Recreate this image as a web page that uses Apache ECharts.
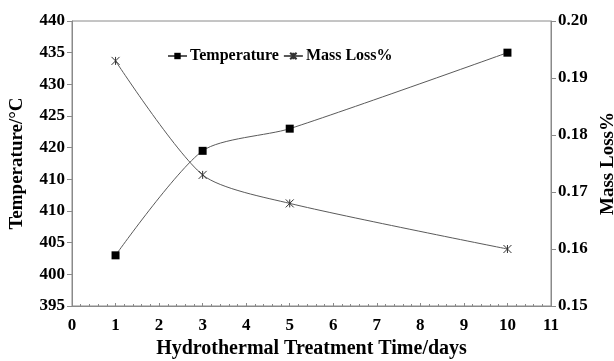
<!DOCTYPE html>
<html>
<head>
<meta charset="utf-8">
<script src="https://cdn.jsdelivr.net/npm/echarts@6/dist/echarts.min.js"></script>
<style>
  html, body { margin: 0; padding: 0; background: #fff; }
  #chart { width: 614px; height: 361px; }
</style>
</head>
<body>
<div id="chart"></div>
<script>
// Hydrothermal treatment time (days)
const days = [1, 3, 5, 10];
// Temperature (°C), left axis
const temperature = [403, 419.5, 423, 435];
// Mass loss (%), right axis
const massLoss = [0.193, 0.173, 0.168, 0.160];
// Left axis tick labels, bottom to top (as printed on the axis)
const tempTickLabels = ['395', '400', '405', '410', '410', '420', '425', '430', '435', '440'];

const FONT = '"Liberation Serif", "Times New Roman", serif';
const AXIS_COLOR = '#8a8a8a';
const LINE_COLOR = '#5a5a5a';

const chart = echarts.init(document.getElementById('chart'), null, { renderer: 'canvas' });

// asterisk marker: an x crossed by a vertical stroke
const asterisk = 'path://M0,0L10,10M10,0L0,10M5,0L5,10';

const tickLabel = { fontFamily: FONT, fontWeight: 'bold', fontSize: 17, color: '#000' };
const titleText = { fontFamily: FONT, fontWeight: 'bold', fontSize: 19, color: '#000' };

chart.setOption({
  animation: false,
  backgroundColor: '#fff',
  textStyle: { fontFamily: FONT },
  grid: {
    left: 72, right: 63, top: 21, bottom: 55,
    outerBoundsMode: 'none',
    show: true, borderColor: AXIS_COLOR, borderWidth: 1, backgroundColor: 'transparent'
  },
  legend: {
    top: 43, left: 162,
    itemWidth: 19, itemHeight: 8, itemGap: 4,
    textStyle: { fontFamily: FONT, fontWeight: 'bold', fontSize: 16, color: '#000', padding: [0, 0, 0, -2] },
    data: [
      { name: 'Temperature' },
      { name: 'Mass Loss%' }
    ]
  },
  xAxis: {
    type: 'value', min: 0, max: 11, interval: 1,
    name: 'Hydrothermal Treatment Time/days',
    nameLocation: 'middle', nameGap: 33,
    nameTextStyle: Object.assign({}, titleText, { fontSize: 20 }),
    axisLine: { lineStyle: { color: AXIS_COLOR } },
    axisTick: { show: true, length: 3, inside: true, lineStyle: { color: AXIS_COLOR } },
    minorTick: { show: true, splitNumber: 5, length: 2, lineStyle: { color: AXIS_COLOR } },
    splitLine: { show: false },
    axisLabel: Object.assign({ margin: 11 }, tickLabel)
  },
  yAxis: [
    {
      type: 'value', min: 395, max: 440, interval: 5, position: 'left',
      name: 'Temperature/°C', nameLocation: 'middle', nameGap: 45, nameRotate: 90,
      nameTextStyle: titleText,
      axisLine: { show: true, lineStyle: { color: AXIS_COLOR } },
      axisTick: { show: true, length: 5, lineStyle: { color: AXIS_COLOR } },
      splitLine: { show: false },
      axisLabel: Object.assign({
        margin: 7,
        formatter: v => tempTickLabels[Math.round((v - 395) / 5)]
      }, tickLabel)
    },
    {
      type: 'value', min: 0.15, max: 0.20, interval: 0.01, position: 'right',
      name: 'Mass Loss%', nameLocation: 'middle', nameGap: 46, nameRotate: 90,
      nameTextStyle: titleText,
      axisLine: { show: true, lineStyle: { color: AXIS_COLOR } },
      axisTick: { show: true, length: 5, lineStyle: { color: AXIS_COLOR } },
      splitLine: { show: false },
      axisLabel: Object.assign({
        margin: 7,
        formatter: v => v.toFixed(2)
      }, tickLabel)
    }
  ],
  series: [
    {
      name: 'Temperature', type: 'line', yAxisIndex: 0,
      data: days.map((d, i) => [d, temperature[i]]),
      smooth: 0.25,
      symbol: 'rect', symbolSize: 8,
      lineStyle: { color: LINE_COLOR, width: 1 },
      itemStyle: { color: '#000' }
    },
    {
      name: 'Mass Loss%', type: 'line', yAxisIndex: 1,
      data: days.map((d, i) => [d, massLoss[i]]),
      smooth: 0.25,
      symbol: asterisk, symbolSize: 8,
      lineStyle: { color: LINE_COLOR, width: 1 },
      itemStyle: { color: '#fff', borderColor: '#333', borderWidth: 1 }
    }
  ]
});
</script>
</body>
</html>
